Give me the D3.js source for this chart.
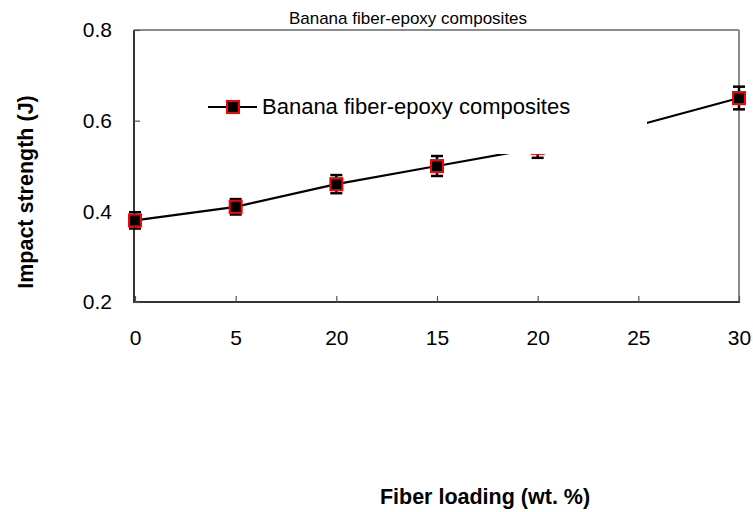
<!DOCTYPE html>
<html>
<head>
<meta charset="utf-8">
<script src="https://cdn.jsdelivr.net/npm/d3@7"></script>
<style>
  body { margin: 0; background: #fff; }
  svg { display: block; }
  text { font-family: Arial, "Liberation Sans", sans-serif; }
</style>
</head>
<body>
<svg id="chart" width="753" height="512"></svg>
<script>
const categories = ["0", "5", "20", "15", "20", "25", "30"];
const impactValues = [0.38, 0.41, 0.46, 0.50, 0.54, 0.59, 0.65];
const errorValues = [0.018, 0.017, 0.02, 0.022, 0.022, 0.02, 0.025];
const yTicks = [0.2, 0.4, 0.6, 0.8];
const seriesName = "Banana fiber-epoxy composites";
const chartTitle = "Banana fiber-epoxy composites";
const xTitle = "Fiber loading (wt. %)";
const yTitle = "Impact strength (J)";

const svg = d3.select("#chart");
const m = { left: 134, right: 739, top: 30, bottom: 302 };

const x = d3.scalePoint().domain(d3.range(categories.length)).range([m.left + 1, m.right]);
const y = d3.scaleLinear().domain([0.2, 0.8]).range([m.bottom, m.top]);

// frame: top & right gray
svg.append("line").attr("x1", m.left).attr("x2", m.right).attr("y1", m.top).attr("y2", m.top)
  .attr("stroke", "#8c8c8c").attr("stroke-width", 2);
svg.append("line").attr("x1", m.right).attr("x2", m.right).attr("y1", m.top).attr("y2", m.bottom)
  .attr("stroke", "#8c8c8c").attr("stroke-width", 2);

// x axis
const xAxis = svg.append("g").attr("transform", `translate(0,${m.bottom})`)
  .call(d3.axisBottom(x).tickSize(-6).tickPadding(28).tickFormat(i => categories[i]));
xAxis.select(".domain").attr("stroke", "#333").attr("stroke-width", 2)
  .attr("d", `M${m.left},0H${m.right + 1}`);
xAxis.selectAll(".tick line").attr("stroke", "#555").attr("stroke-width", 1.2);
xAxis.selectAll(".tick text").attr("font-size", 21).attr("fill", "#000")
  .attr("font-family", "Arial, 'Liberation Sans', sans-serif");

// y axis
const yAxis = svg.append("g").attr("transform", `translate(${m.left},0)`)
  .call(d3.axisLeft(y).tickValues(yTicks).tickSize(-6).tickPadding(22).tickFormat(d3.format(".1f")));
yAxis.select(".domain").attr("stroke", "#333").attr("stroke-width", 2)
  .attr("d", `M0,${m.top}V${m.bottom + 1}`);
yAxis.selectAll(".tick line").attr("stroke", "#555").attr("stroke-width", 1.2);
yAxis.selectAll(".tick text").attr("font-size", 21).attr("fill", "#000")
  .attr("font-family", "Arial, 'Liberation Sans', sans-serif");

const data = impactValues.map((v, i) => ({ i, v, e: errorValues[i] }));

// line
svg.append("path").datum(data)
  .attr("fill", "none").attr("stroke", "#000").attr("stroke-width", 2.2)
  .attr("d", d3.line().x(d => x(d.i)).y(d => y(d.v)));

// error bars
const eb = svg.append("g").attr("stroke", "#000").attr("stroke-width", 2.5);
data.forEach(d => {
  const cx = x(d.i);
  eb.append("line").attr("x1", cx).attr("x2", cx).attr("y1", y(d.v - d.e)).attr("y2", y(d.v + d.e));
  eb.append("line").attr("x1", cx - 6).attr("x2", cx + 6).attr("y1", y(d.v - d.e)).attr("y2", y(d.v - d.e));
  eb.append("line").attr("x1", cx - 6).attr("x2", cx + 6).attr("y1", y(d.v + d.e)).attr("y2", y(d.v + d.e));
});

// markers
svg.append("g").selectAll("rect").data(data).join("rect")
  .attr("x", d => x(d.i) - 6).attr("y", d => y(d.v) - 6)
  .attr("width", 12).attr("height", 12)
  .attr("fill", "#000").attr("stroke", "#ff0000").attr("stroke-width", 2);

// legend (opaque white box)
const lg = svg.append("g");
lg.append("rect").attr("x", 204).attr("y", 60).attr("width", 443).attr("height", 94).attr("fill", "#fff");
lg.append("line").attr("x1", 208).attr("x2", 257).attr("y1", 107).attr("y2", 107)
  .attr("stroke", "#000").attr("stroke-width", 2.2);
lg.append("rect").attr("x", 227).attr("y", 101).attr("width", 12).attr("height", 12)
  .attr("fill", "#000").attr("stroke", "#ff0000").attr("stroke-width", 2);
lg.append("text").attr("x", 262).attr("y", 114).attr("font-size", 22).attr("fill", "#000").text(seriesName);

// title
svg.append("text").attr("x", 408).attr("y", 24).attr("text-anchor", "middle")
  .attr("font-size", 17).attr("fill", "#000").text(chartTitle);

// axis titles
svg.append("text").attr("x", 485).attr("y", 504).attr("text-anchor", "middle")
  .attr("font-size", 21.5).attr("font-weight", "bold").attr("fill", "#000").text(xTitle);
svg.append("text").attr("transform", "translate(33,192) rotate(-90)").attr("text-anchor", "middle")
  .attr("font-size", 21.5).attr("font-weight", "bold").attr("fill", "#000").text(yTitle);
</script>
</body>
</html>
